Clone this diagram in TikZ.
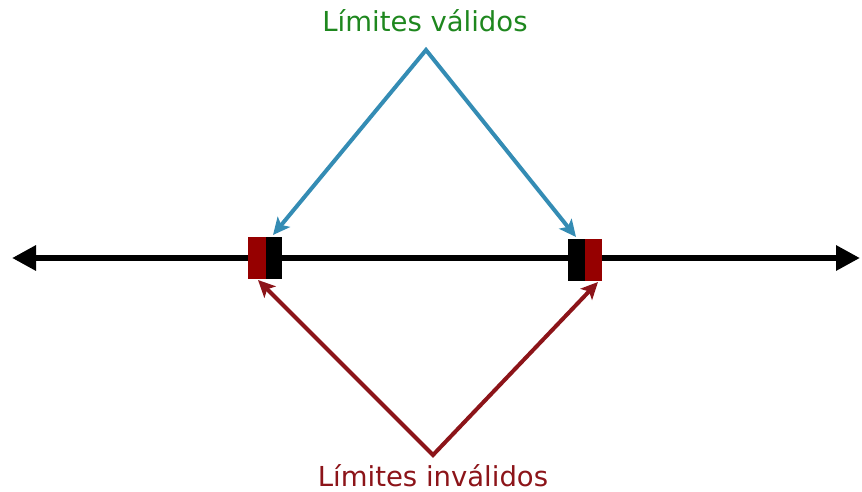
\documentclass[tikz,border=0pt]{standalone}
\usepackage{fontspec}
\setmainfont{DejaVu Sans}
\usetikzlibrary{arrows.meta}
\definecolor{okgreen}{RGB}{30,135,30}
\definecolor{okblue}{RGB}{52,140,180}
\definecolor{badred}{RGB}{140,20,25}
\definecolor{boxred}{RGB}{150,0,0}
\begin{document}
\begin{tikzpicture}[x=1pt,y=-1pt,
  axis/.style={line width=6pt,{Triangle[length=24pt,width=24pt]}-{Triangle[length=24pt,width=24pt]}},
  okarrow/.style={okblue,line width=4pt,line join=miter,{Stealth[length=17pt,width=16pt,inset=4pt]}-{Stealth[length=17pt,width=16pt,inset=4pt]}},
  badarrow/.style={badred,line width=4pt,line join=miter,{Stealth[length=17pt,width=16pt,inset=4pt]}-{Stealth[length=17pt,width=16pt,inset=4pt]}},
  lbl/.style={font=\fontsize{27.5}{32}\selectfont,inner sep=0pt}]
\useasboundingbox (0,0) rectangle (862,492);
\coordinate (L) at (12,258);
\coordinate (R) at (860,258);
\draw[axis] (L) -- (R);
% left mark
\fill[boxred] (248,237) rectangle (266,279);
\fill[black] (266,237) rectangle (282,279);
\node[inner sep=0pt,minimum width=34pt,minimum height=42pt] (lm) at (265,258) {};
% right mark
\fill[black] (568,239) rectangle (585,281);
\fill[boxred] (585,239) rectangle (602,281);
\node[inner sep=0pt,minimum width=34pt,minimum height=42pt] (rm) at (585,260) {};
\node[lbl,text=okgreen] (top) at (425,21) {Límites válidos};
\node[lbl,text=badred] (bot) at (433,476) {Límites inválidos};
\coordinate (ta) at (426,50);
\coordinate (ba) at (433,455);
\coordinate (lt) at (273,235);
\coordinate (rt) at (576,237);
\coordinate (lb) at (258,280);
\coordinate (rb) at (598,282);
\draw[okarrow] (lt) -- (ta) -- (rt);
\draw[badarrow] (lb) -- (ba) -- (rb);
\end{tikzpicture}
\end{document}
